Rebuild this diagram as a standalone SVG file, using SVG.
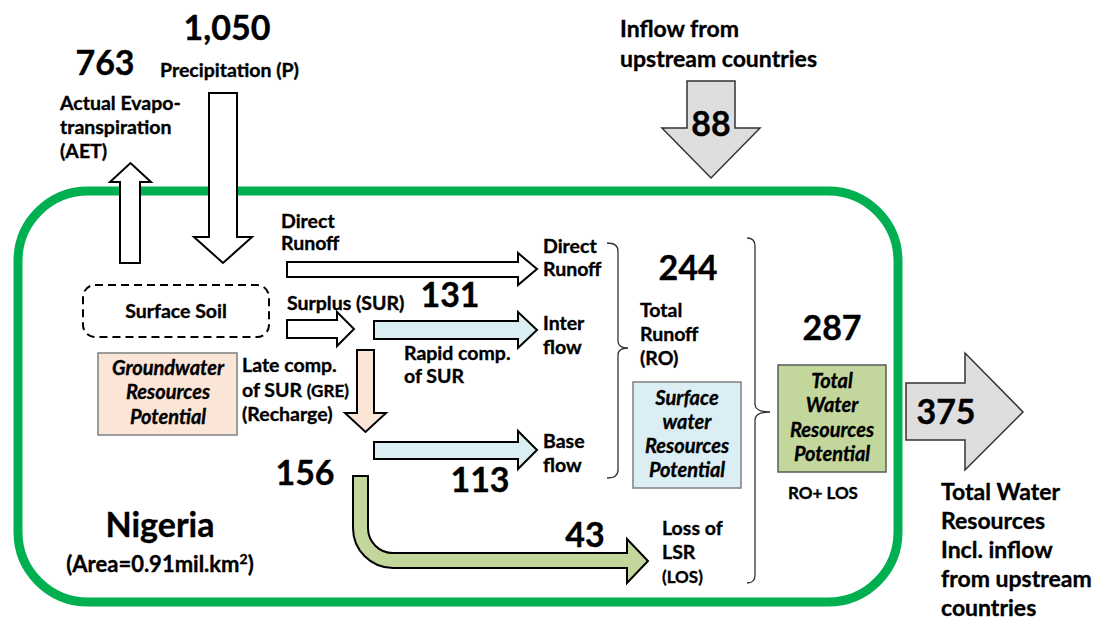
<svg xmlns="http://www.w3.org/2000/svg" width="1100" height="621" viewBox="0 0 1100 621">
  <style>
    text { font-family: Lato, "Liberation Sans", sans-serif; font-weight: bold; fill: #000; stroke: #000; stroke-width: 0.35; }
    .big { font-size: 34px; }
    .lbl { font-size: 19.5px; }
    .sm { font-size: 17px; }
    .mid { font-size: 23px; }
    .it { font-size: 20px; font-style: italic; text-anchor: middle; }
    .c { text-anchor: middle; }
    .arrow-w { fill: #fff; stroke: #000; stroke-width: 2; stroke-linejoin: miter; }
    .arrow-b { fill: #DAEEF3; stroke: #000; stroke-width: 2; }
    .arrow-p { fill: #FBE5D6; stroke: #000; stroke-width: 2; }
    .arrow-g { fill: #C3D69B; stroke: #000; stroke-width: 2; }
    .arrow-gr { fill: #DEDEDE; stroke: #333; stroke-width: 1.5; }
    .brace { fill: none; stroke: #333; stroke-width: 1.3; }
  </style>

  <!-- country boundary -->
  <g id="country">
    <rect x="18" y="191" width="880" height="411" rx="70" ry="70" fill="none" stroke="#00B050" stroke-width="9"/>
    <text class="big c" x="160" y="537">Nigeria</text>
    <text class="c" x="160" y="572" font-size="22">(Area=0.91mil.km<tspan font-size="14" dy="-8">2</tspan><tspan dy="8">)</tspan></text>
  </g>

  <!-- flows -->
  <g id="connectors">
    <!-- evapotranspiration (up) -->
    <polygon class="arrow-w" points="120,263 120,182 110,182 130.5,163 151,182 140,182 140,263"/>
    <!-- precipitation (down) -->
    <polygon class="arrow-w" points="209,93 237,93 237,237 252,237 223,263 194,237 209,237"/>
    <!-- inflow from upstream -->
    <polygon class="arrow-gr" points="687,81 735,81 735,128 760,128 711,178 662,128 687,128"/>
    <!-- direct runoff -->
    <polygon class="arrow-w" points="287,262 518,262 518,253 537,269 518,285 518,277 287,277"/>
    <!-- surplus -->
    <polygon class="arrow-w" points="287,320 337,320 337,312 354,329 337,346 337,338 287,338"/>
    <!-- interflow -->
    <polygon class="arrow-b" points="374,321 518,321 518,312 537,330 518,348 518,339 374,339"/>
    <!-- recharge -->
    <polygon class="arrow-p" points="357,350 374,350 374,413 386,413 365.5,432 345,413 357,413"/>
    <!-- base flow -->
    <polygon class="arrow-b" points="374,442 518,442 518,431 537,450 518,469 518,459 374,459"/>
    <!-- loss of LSR -->
    <path class="arrow-g" d="M353,476 V528 A40,40 0 0 0 393,568 H627 V583 L648,561 L627,539 V553 H393 A25,25 0 0 1 368,528 V476 Z"/>
    <!-- total outflow -->
    <polygon class="arrow-gr" points="906,383 965,383 965,353 1023,412 965,470 965,440 906,440"/>
    <!-- braces -->
    <path class="brace" d="M607,243 Q618,243 618,251 V341 Q618,348 628,348 Q618,348 618,355 V470 Q618,478 607,478"/>
    <path class="brace" d="M747,238 Q755,238 755,246 V404 Q755,412 770,412 Q755,412 755,420 V575 Q755,583 747,583"/>
  </g>

  <g id="precipitation">
    <text class="big c" x="227" y="40">1,050</text>
    <text class="lbl" x="160" y="77">Precipitation (P)</text>
  </g>

  <g id="aet">
    <text class="big c" x="105" y="75">763</text>
    <text class="lbl" x="60" y="110">Actual Evapo-</text>
    <text class="lbl" x="60" y="134">transpiration</text>
    <text class="lbl" x="60" y="158">(AET)</text>
  </g>

  <g id="inflow">
    <text class="mid" x="620" y="37">Inflow from</text>
    <text class="mid" x="620" y="67">upstream countries</text>
    <text class="big c" x="711" y="136">88</text>
  </g>

  <g id="surface-soil">
    <rect x="83" y="285" width="186" height="52" rx="12" ry="12" fill="none" stroke="#000" stroke-width="2" stroke-dasharray="8,5"/>
    <text class="lbl c" x="176" y="318">Surface Soil</text>
  </g>

  <g id="groundwater">
    <rect x="98" y="353" width="139" height="82" fill="#FBE5D6" stroke="#7F7F7F" stroke-width="1.5"/>
    <text class="it" x="168" y="375">Groundwater</text>
    <text class="it" x="168" y="399">Resources</text>
    <text class="it" x="168" y="424">Potential</text>
  </g>

  <g id="direct-runoff-label">
    <text class="lbl" x="281" y="228">Direct</text>
    <text class="lbl" x="281" y="250">Runoff</text>
  </g>

  <g id="surplus-label">
    <text class="lbl" x="287" y="310">Surplus (SUR)</text>
    <text class="big c" x="450" y="307">131</text>
  </g>

  <g id="recharge-label">
    <text class="lbl" x="242" y="372">Late comp.</text>
    <text class="lbl" x="242" y="397">of SUR <tspan font-size="17">(GRE)</tspan></text>
    <text class="lbl" x="242" y="421">(Recharge)</text>
    <text class="big c" x="305" y="485">156</text>
  </g>

  <g id="rapid-label">
    <text class="lbl" x="404" y="360">Rapid comp.</text>
    <text class="lbl" x="404" y="383">of SUR</text>
    <text class="big c" x="480" y="492">113</text>
  </g>

  <g id="runoff-parts">
    <text class="lbl" x="543" y="253">Direct</text>
    <text class="lbl" x="543" y="276">Runoff</text>
    <text class="lbl" x="543" y="330">Inter</text>
    <text class="lbl" x="543" y="354">flow</text>
    <text class="lbl" x="543" y="448">Base</text>
    <text class="lbl" x="543" y="472">flow</text>
  </g>

  <g id="loss">
    <text class="big c" x="585" y="547">43</text>
    <text class="lbl" x="662" y="535">Loss of</text>
    <text class="lbl" x="662" y="559">LSR</text>
    <text class="sm" x="662" y="583">(LOS)</text>
  </g>

  <g id="total-runoff">
    <text class="big c" x="688" y="280">244</text>
    <text class="lbl" x="640" y="317">Total</text>
    <text class="lbl" x="640" y="341">Runoff</text>
    <text class="lbl" x="640" y="365">(RO)</text>
  </g>

  <g id="surface-water">
    <rect x="633" y="382" width="108" height="106" fill="#DAEEF3" stroke="#7F7F7F" stroke-width="1.5"/>
    <text class="it" x="687" y="405">Surface</text>
    <text class="it" x="687" y="429">water</text>
    <text class="it" x="687" y="453">Resources</text>
    <text class="it" x="687" y="477">Potential</text>
  </g>

  <g id="total-water">
    <text class="big c" x="832" y="340">287</text>
    <rect x="778" y="365" width="108" height="107" fill="#C3D69B" stroke="#595959" stroke-width="1.5"/>
    <text class="it" x="832" y="388">Total</text>
    <text class="it" x="832" y="412">Water</text>
    <text class="it" x="832" y="437">Resources</text>
    <text class="it" x="832" y="461">Potential</text>
    <text class="sm" x="788" y="499">RO+ LOS</text>
  </g>

  <g id="total-incl-inflow">
    <text class="big c" x="946" y="424">375</text>
    <text class="mid" x="941" y="500">Total Water</text>
    <text class="mid" x="941" y="529">Resources</text>
    <text class="mid" x="941" y="558">Incl. inflow</text>
    <text class="mid" x="941" y="587">from upstream</text>
    <text class="mid" x="941" y="616">countries</text>
  </g>
</svg>
